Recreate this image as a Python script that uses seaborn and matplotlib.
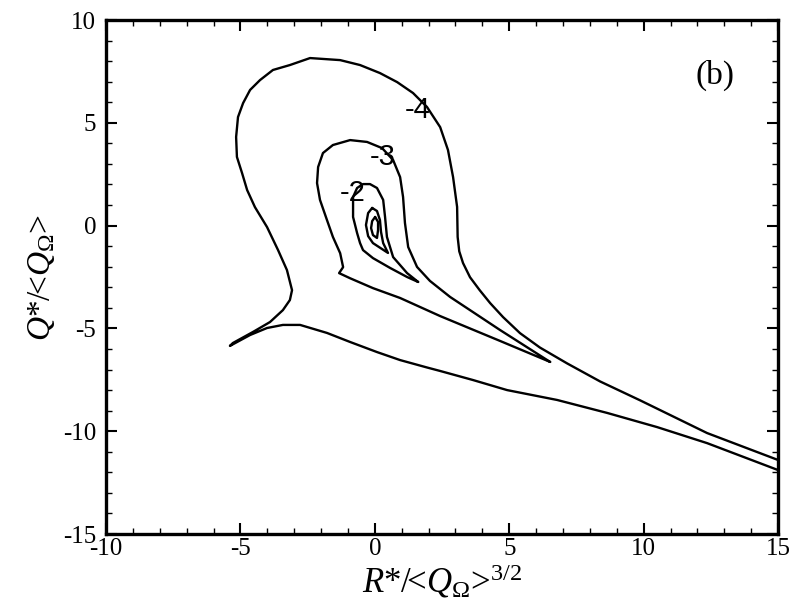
import matplotlib
matplotlib.use('Agg')
import matplotlib.pyplot as plt
from matplotlib.ticker import MultipleLocator
import numpy as np
import seaborn as sns

# contour lines of log10 PDF (R*, Q*)
lev4_r = [15.00, 12.36, 9.87, 8.38, 7.15, 6.14, 5.40, 4.77, 4.29, 3.90, 3.54, 3.28, 3.14, 3.08,
          3.06, 2.91, 2.72, 2.43, 1.94, 1.42, 0.83, 0.19, -0.55, -1.29, -2.41, -3.16, -3.79,
          -4.27, -4.64, -4.90, -5.09, -5.16, -5.13, -4.94, -4.75, -4.46, -4.01, -3.60, -3.27,
          -3.08, -3.16, -3.42, -3.90, -4.53, -5.28, -5.39,
          -4.64, -4.01, -3.42, -2.78, -1.78, -0.92, 0.08, 0.94, 1.94, 2.43, 3.65, 4.92, 6.78,
          8.64, 10.50, 12.36, 15.00]
lev4_q = [-11.40, -10.09, -8.50, -7.58, -6.70, -5.93, -5.23, -4.45, -3.77, -3.14, -2.51, -1.82,
          -1.25, -0.55, 0.91, 2.36, 3.68, 4.79, 5.77, 6.45, 6.98, 7.42, 7.81, 8.05, 8.15, 7.81,
          7.57, 7.08, 6.60, 5.96, 5.28, 4.31, 3.34, 2.56, 1.73, 0.90, -0.07, -1.19, -2.16,
          -3.14, -3.62, -4.11, -4.69, -5.17, -5.71, -5.85,
          -5.32, -4.98, -4.83, -4.83, -5.22, -5.66, -6.15, -6.54, -6.90, -7.07, -7.51, -8.00,
          -8.48, -9.11, -9.80, -10.58, -11.89]

lev3_r = [6.52, 4.66, 3.54, 2.80, 2.05, 1.57, 1.24, 1.12, 1.05, 0.94, 0.68, 0.27, -0.29, -0.92,
          -1.56, -1.93, -2.11, -2.15, -2.04, -1.78, -1.56, -1.29, -1.18, -1.33,
          -0.92, -0.07, 0.94, 2.43, 4.66, 6.52]
lev3_q = [-6.63, -5.08, -4.11, -3.47, -2.69, -2.01, -1.04, 0.13, 1.39, 2.36, 3.19, 3.77, 4.07,
          4.16, 3.92, 3.53, 2.85, 2.07, 1.25, 0.27, -0.55, -1.34, -2.02, -2.31,
          -2.56, -3.04, -3.52, -4.40, -5.61, -6.63]

lev2_r = [1.61, 1.20, 0.68, 0.45, 0.38, 0.31, 0.08, -0.18, -0.44, -0.66, -0.81, -0.81, -0.66,
          -0.55, -0.44, -0.07, 0.57, 1.20, 1.61]
lev2_q = [-2.74, -2.31, -1.53, -0.55, 0.42, 1.25, 1.83, 2.02, 2.02, 1.83, 1.39, 0.42, -0.36,
          -0.85, -1.19, -1.58, -2.06, -2.50, -2.74]

lev1_r = [-0.10, -0.25, -0.33, -0.25, -0.07, 0.49, 0.31, 0.23, 0.19, 0.08, -0.10]
lev1_q = [0.86, 0.61, 0.03, -0.51, -0.85, -1.33, -0.85, -0.31, 0.27, 0.71, 0.86]

lev0_r = [0.01, -0.10, -0.14, -0.07, 0.08, 0.12, 0.12, 0.01]
lev0_q = [0.42, 0.22, -0.12, -0.46, -0.60, -0.21, 0.18, 0.42]

labels = ['-4', '-3', '-2']
label_r = [1.58, 0.30, -0.81]
label_q = [5.62, 3.34, 1.59]

sns.set_theme(style='ticks', rc={'text.color': 'black', 'axes.labelcolor': 'black',
                                 'xtick.color': 'black', 'ytick.color': 'black',
                                 'axes.edgecolor': 'black'})
plt.rcParams['font.family'] = ['Liberation Serif', 'DejaVu Serif']
plt.rcParams['axes.unicode_minus'] = False
plt.rcParams['mathtext.fontset'] = 'custom'
plt.rcParams['mathtext.rm'] = 'Liberation Serif'
plt.rcParams['mathtext.it'] = 'Liberation Serif:italic'

fig = plt.figure(figsize=(8.03, 6.03), dpi=100)
ax = fig.add_axes([0.132, 0.1144, 0.837, 0.8524])

for r, q in [(lev4_r, lev4_q), (lev3_r, lev3_q), (lev2_r, lev2_q), (lev1_r, lev1_q), (lev0_r, lev0_q)]:
    sns.lineplot(x=r, y=q, sort=False, estimator=None, color='black', lw=1.7, ax=ax)

for t, r, q in zip(labels, label_r, label_q):
    ax.text(r, q, t, ha='center', va='center', fontsize=21, family='Liberation Sans', color='black')

ax.text(0.906, 0.893, '(b)', transform=ax.transAxes, ha='center', va='center', fontsize=24)

ax.set_xlim(-10, 15)
ax.set_ylim(-15, 10)
ax.xaxis.set_major_locator(MultipleLocator(5))
ax.yaxis.set_major_locator(MultipleLocator(5))
ax.xaxis.set_minor_locator(MultipleLocator(1))
ax.yaxis.set_minor_locator(MultipleLocator(1))
ax.tick_params(which='both', direction='in', top=True, right=True, labelsize=18, color='black')
ax.tick_params(which='major', length=8, width=1.5)
ax.tick_params(axis='y', which='major', pad=7)
ax.tick_params(axis='x', which='major', pad=3)
ax.tick_params(which='minor', length=4.5, width=1.0)
for s in ax.spines.values():
    s.set_linewidth(2.4)
    s.set_color('black')

ax.set_xlabel(r'$\mathit{R}$*/<$\mathit{Q}_\Omega$>$^{\mathit{3/2}}$', fontsize=25, labelpad=2)
ax.set_ylabel(r'$\mathit{Q}$*/<$\mathit{Q}_\Omega$>', fontsize=24, labelpad=4)

fig.savefig('out.png', dpi=100)
